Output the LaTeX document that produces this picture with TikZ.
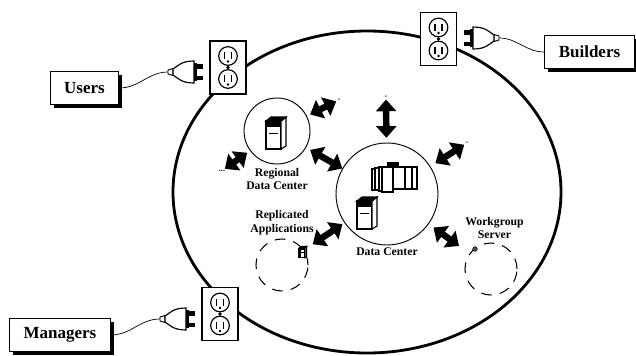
\documentclass[tikz,border=0pt]{standalone}
\usepackage{fontspec}
\setmainfont{Liberation Serif}
\usetikzlibrary{positioning,arrows.meta,shadows,shapes.geometric}

\tikzset{
  % wall outlet, two sockets
  outlet/.pic={
    \node[draw, line width=1.2pt, fill=white, minimum width=1.08cm, minimum height=1.6cm, inner sep=0pt] (-box) {};
    \foreach \s in {-11.5,11.5}{
      \draw[line width=1pt] (0,\s) circle (0.28cm);
      \draw[line width=1.5pt] (-3.5,\s-4) -- (-3.5,\s+3);
      \draw[line width=1.5pt] (3.5,\s-4) -- (3.5,\s+3);
      \fill (0,\s+5.5) circle (1.1pt);
    }
    \fill (0,0) circle (1.6pt);
  },
  % plug, pointing along +x, cord end at the origin
  plug/.pic={
    \coordinate (-cord) at (0,0);
    \draw[line width=0.8pt, fill=white] (0,-2) -- (5,-3.5) -- (5,3.5) -- (0,2) -- cycle;
    \draw[line width=1pt, fill=white] (5,-3) .. controls (10,-6) and (13,-11) .. (26,-11)
      -- (26,11) .. controls (13,11) and (10,6) .. (5,3) -- cycle;
    \fill (26,-8) rectangle (35,-3.5);
    \fill (26,3.5) rectangle (35,8);
    \fill (26,-9) rectangle (29,9);
  },
  % tower server
  server/.pic={
    \draw[line width=1pt, fill=white] (-10,-12) rectangle (5,16);
    \draw[line width=1pt, fill=white] (5,-12) -- (10,-16) -- (10,13) -- (5,16) -- cycle;
    \draw[line width=1pt, fill=black] (-10,-12) -- (-5,-16) -- (10,-16) -- (5,-12) -- cycle;
    \fill (-10,-12) rectangle (5,-6);
    \draw[line width=0.8pt] (-7,0) -- (2,0);
    \draw[line width=2pt] (-10,-12) -- (-10,16);
  },
  % mainframe cabinets
  mainframe/.pic={
    \draw[line width=0.9pt, fill=white] (-22,-8) rectangle (-19,13);
    \draw[line width=0.9pt, fill=white] (-19,-9) rectangle (-15,13);
    \draw[line width=0.9pt, fill=white] (-15,-10) rectangle (-12,14);
    \draw[line width=0.9pt, fill=white] (-12,-10) rectangle (-1,15);
    \draw[line width=0.9pt, fill=black] (-6,-14) rectangle (4,-10);
    \draw[line width=0.9pt, fill=white] (-1,-10) rectangle (23,12);
    \draw[line width=0.9pt] (11,-10) -- (11,12) (18,-10) -- (18,12);
  }
}

\begin{document}
\begin{tikzpicture}[
  x=0.03cm, y=-0.03cm,
  block/.style={draw, line width=1pt, fill=white, inner xsep=0.42cm, minimum height=1cm,
    font=\bfseries\fontsize{14.5}{16}\selectfont,
    drop shadow={shadow xshift=3pt, shadow yshift=-3pt, fill=black, opacity=1}},
  hub/.style={draw, circle, line width=0.8pt, inner sep=0pt},
  site/.style={draw, circle, line width=0.9pt, dash pattern=on 9pt off 7pt, inner sep=0pt, minimum size=1.56cm},
  lbl/.style={align=center, font=\bfseries\fontsize{10}{11.5}\selectfont, inner sep=1pt},
  link/.style={line width=5.5pt, {Triangle[length=10pt,width=17pt]}-{Triangle[length=10pt,width=17pt]}},
  endmark/.style={font=\bfseries\fontsize{7}{7}\selectfont, inner sep=1pt},
  cord/.style={semithick}
]
\useasboundingbox (0,0) rectangle (636,355);

% enterprise ring and outlets
\node[draw, ellipse, line width=2.4pt, minimum width=11.64cm, minimum height=9.66cm, inner sep=0pt] (ent) at (367,192) {};
\pic (uout) at (228,67.5) {outlet};
\pic (bout) at (438.5,39) {outlet};
\pic (mout) at (220,314) {outlet};

% outside groups
\node[block] (users) at (84.5,88) {Users};
\node[block] (builders) at (589.5,52) {Builders};
\node[block] (managers) at (60,335) {Managers};

% plugs and cords
\pic (uplug) at (168,72) {plug};
\pic[rotate=180] (bplug) at (499,38) {plug};
\pic (mplug) at (160,319) {plug};
\draw[cord] (users.east) to[out=0, in=180] (uplug-cord);
\draw[cord] (bplug-cord) to[out=0, in=180] (builders.west);
\draw[cord] (managers.east) to[out=0, in=180] (mplug-cord);

% sites
\node[hub, minimum size=1.98cm] (rdc) at (277,131) {};
\node[hub, minimum size=3.06cm] (dc) at (387,194) {};
\node[site] (rep) at (282,265) {};
\node[site] (wgs) at (491,269) {};

\pic at (276,133) {server};
\pic at (394,177) {mainframe};
\pic at (367,213) {server};
\pic[scale=0.35] at (303,252) {server};
\draw[fill=black!70] (475,249) circle (2pt);

% labels
\node[lbl, below=2pt of rdc] (rdclbl) {Regional\\Data Center};
\node[lbl, below=1pt of dc] (dclbl) {Data Center};
\node[lbl, above=2pt of rep] (replbl) {Replicated\\Applications};
\node[lbl, above=2pt of wgs, xshift=3pt] (wgslbl) {Workgroup\\Server};

% loose ends
\node[endmark] (dcN) at (386,97) {-};
\node[endmark] (dcNE) at (467,143) {-};
\node[endmark] (rdcNE) at (339,100) {-};
\node[endmark] (rdcSW) at (222,171) {...};

% links
\draw[link, shorten >=4pt] (dcN) -- (dc);
\draw[link, shorten >=5pt] (dcNE) -- (dc);
\draw[link, shorten <=3pt] (rdc) -- (rdcNE);
\draw[link, shorten <=3pt] (rdc) -- (rdcSW);
\draw[link, shorten <=4pt] (rdc) -- (dc);
\draw[link, shorten <=2pt, shorten >=9pt] (dc) -- (rep);
\draw[link, shorten <=5pt, shorten >=11pt] (dc) -- (wgs);

\end{tikzpicture}
\end{document}
